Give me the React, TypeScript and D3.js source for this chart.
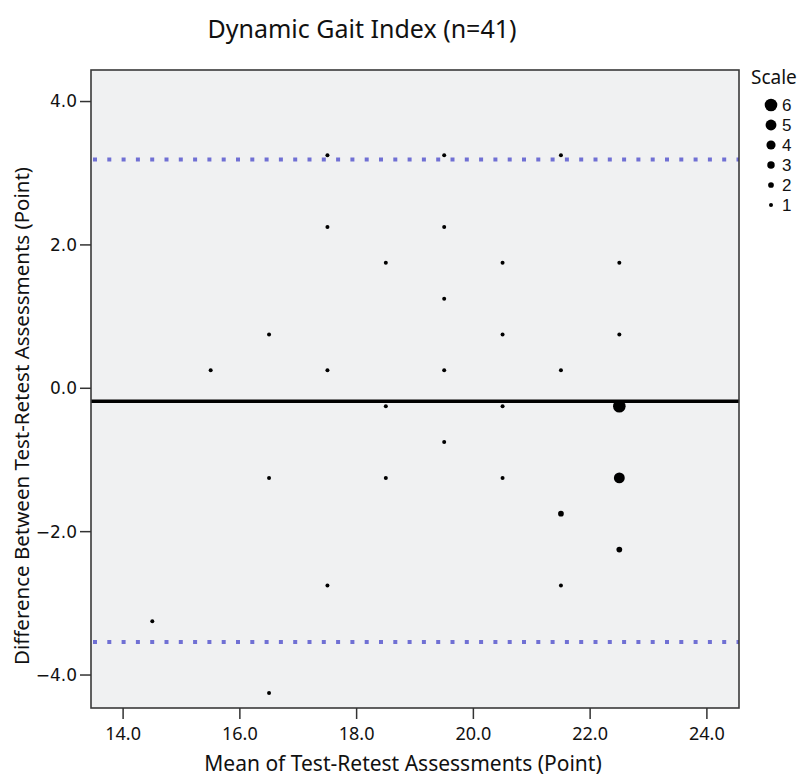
import React from "react";
import * as d3 from "d3";

// Bland-Altman style plot, Dynamic Gait Index
const meanScores = [
  14.5, 15.5,
  16.5, 16.5, 16.5,
  17.5, 17.5, 17.5, 17.5,
  18.5, 18.5, 18.5,
  19.5, 19.5, 19.5, 19.5, 19.5,
  20.5, 20.5, 20.5, 20.5,
  21.5, 21.5, 21.5, 21.5,
  22.5, 22.5, 22.5, 22.5, 22.5,
];
const differences = [
  -3.25, 0.25,
  0.75, -1.25, -4.25,
  3.25, 2.25, 0.25, -2.75,
  1.75, -0.25, -1.25,
  3.25, 2.25, 1.25, 0.25, -0.75,
  1.75, 0.75, -0.25, -1.25,
  3.25, 0.25, -1.75, -2.75,
  1.75, 0.75, -0.25, -1.25, -2.25,
];
const counts = [
  1, 1,
  1, 1, 1,
  1, 1, 1, 1,
  1, 1, 1,
  1, 1, 1, 1, 1,
  1, 1, 1, 1,
  1, 1, 2, 1,
  1, 1, 6, 5, 2,
];

const meanDiff = -0.18;
const upperLimit = 3.19;
const lowerLimit = -3.54;

const xTicks = [14, 16, 18, 20, 22, 24];
const yTicks = [4, 2, 0, -2, -4];
const legendSizes = [6, 5, 4, 3, 2, 1];

const W = 811;
const H = 778;
const plot = { left: 91, right: 739, top: 70, bottom: 708 };

const labelFont = "'Noto Sans', 'Open Sans', sans-serif";
const tickFont = "'DejaVu Sans', Verdana, sans-serif";
const legendFont = "'Liberation Sans', Arial, sans-serif";

export default function App() {
  const x = d3.scaleLinear().domain([13.45, 24.55]).range([plot.left, plot.right]);
  const y = d3.scaleLinear().domain([-4.46, 4.44]).range([plot.bottom, plot.top]);
  const r = d3.scaleLinear().domain([1, 6]).range([2, 6.3]);

  const points = meanScores.map((m, i) => ({ m, d: differences[i], n: counts[i] }));

  return (
    <svg
      width={W}
      height={H}
      viewBox={`0 0 ${W} ${H}`}
      style={{ position: "absolute", left: 0, top: 0, background: "#fff" }}
    >
      <text x={362} y={38} textAnchor="middle" fontFamily={labelFont} fontSize={25} fill="#111">
        Dynamic Gait Index (n=41)
      </text>

      {/* plot frame */}
      <rect
        x={plot.left}
        y={plot.top}
        width={plot.right - plot.left}
        height={plot.bottom - plot.top}
        fill="#f0f1f2"
      />

      {/* limits of agreement */}
      {[upperLimit, lowerLimit].map((v) => (
        <line
          key={v}
          x1={plot.left + 2}
          x2={plot.right}
          y1={y(v)}
          y2={y(v)}
          stroke="#7070d4"
          strokeWidth={4}
          strokeDasharray="4 10.3"
        />
      ))}

      {/* mean difference */}
      <line x1={plot.left} x2={plot.right} y1={y(meanDiff)} y2={y(meanDiff)} stroke="#000" strokeWidth={3.4} />

      {points.map((p, i) => (
        <circle key={i} cx={x(p.m)} cy={y(p.d)} r={r(p.n)} fill="#000" />
      ))}

      <rect
        x={plot.left}
        y={plot.top}
        width={plot.right - plot.left}
        height={plot.bottom - plot.top}
        fill="none"
        stroke="#3a3a3a"
        strokeWidth={1.6}
      />

      {/* y axis */}
      {yTicks.map((t) => (
        <g key={t} transform={`translate(${plot.left},${y(t)})`}>
          <line x1={-11} x2={0} stroke="#333" strokeWidth={1.5} />
          <text x={-14} dy="0.35em" textAnchor="end" fontFamily={tickFont} fontSize={17} fill="#111">
            {t < 0 ? "\u2212" + d3.format(".1f")(-t) : d3.format(".1f")(t)}
          </text>
        </g>
      ))}

      {/* x axis */}
      {xTicks.map((t) => (
        <g key={t} transform={`translate(${x(t)},${plot.bottom})`}>
          <line y1={0} y2={11} stroke="#333" strokeWidth={1.5} />
          <text y={32} textAnchor="middle" fontFamily={labelFont} fontSize={18} fill="#111">
            {d3.format(".1f")(t)}
          </text>
        </g>
      ))}

      <text x={403} y={771} textAnchor="middle" fontFamily={labelFont} fontSize={21} fill="#111">
        Mean of Test-Retest Assessments (Point)
      </text>
      <text
        transform={`translate(29,${416}) rotate(-90)`}
        textAnchor="middle"
        fontFamily={labelFont}
        fontSize={20.5}
        fill="#111"
      >
        Difference Between Test-Retest Assessments (Point)
      </text>

      {/* size legend */}
      <text x={751} y={84} fontFamily={labelFont} fontSize={19} fill="#111">
        Scale
      </text>
      {legendSizes.map((s, i) => (
        <g key={s} transform={`translate(771,${105 + i * 20})`}>
          <circle r={r(s)} fill="#000" />
          <text x={11} dy="0.36em" fontFamily={legendFont} fontSize={17} fill="#111">
            {s}
          </text>
        </g>
      ))}
    </svg>
  );
}
